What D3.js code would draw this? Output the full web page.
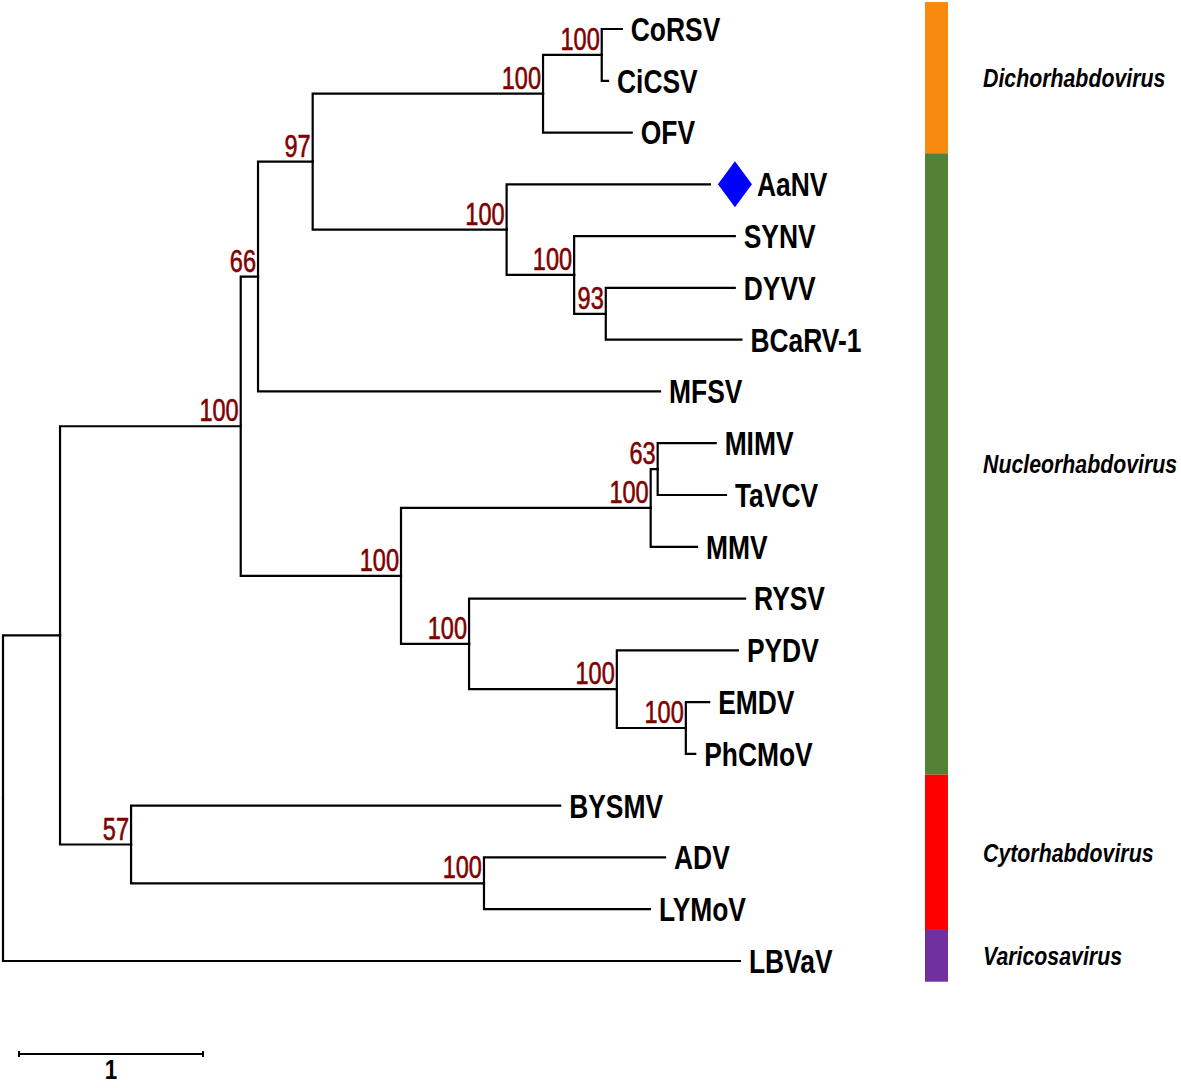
<!DOCTYPE html>
<html>
<head>
<meta charset="utf-8">
<script src="https://cdn.jsdelivr.net/npm/d3@7"></script>
<style>
  html, body { margin: 0; padding: 0; background: #fff; }
  svg { display: block; }
  .lbl { font-family: "Liberation Sans", Arial, sans-serif; }
</style>
</head>
<body>
<svg id="chart" width="1181" height="1088"></svg>
<script>
// ---- Tree data (parent table, branch lengths in substitutions/site, bootstrap support) ----
const nodeIds = ["root","n1","n2","n3","n4","n5","n6","CoRSV","CiCSV","OFV","n7","AaNV","n8","SYNV","n9","DYVV","BCaRV-1","MFSV",
  "n10","n11","n12","MIMV","TaVCV","MMV","n13","RYSV","n14","PYDV","n15","EMDV","PhCMoV","n16","BYSMV","n17","ADV","LYMoV","LBVaV"];
const parentIds = [null,"root","n1","n2","n3","n4","n5","n6","n6","n5","n4","n7","n7","n8","n8","n9","n9","n3",
  "n2","n10","n11","n12","n12","n11","n10","n13","n13","n14","n14","n15","n15","n1","n16","n16","n17","n17","root"];
const branchLengths = [0,0.310,0.982,0.094,0.297,1.252,0.319,0.109,0.034,0.482,1.054,1.105,0.367,0.873,0.172,0.701,0.737,2.185,
  0.871,1.357,0.038,0.315,0.371,0.252,0.370,1.500,0.803,0.658,0.375,0.127,0.051,0.386,2.332,1.918,0.984,0.902,4.005];
const bootstrapValues = [null,null,100,66,97,100,100,null,null,null,100,null,100,null,93,null,null,null,
  100,100,63,null,null,null,100,null,100,null,100,null,null,57,null,100,null,null,null];

// highlighted taxon
const highlightedTaxa = ["AaNV"];

// genus groups (in leaf order)
const genusNames = ["Dichorhabdovirus","Nucleorhabdovirus","Cytorhabdovirus","Varicosavirus"];
const genusLeafCounts = [3, 12, 3, 1];
const genusColors = ["#f7890f","#538135","#fe0000","#7030a0"];

const scaleBarValue = 1;
const scaleBarLabel = "1";

// ---- Build hierarchy ----
const table = nodeIds.map((id, i) => ({ id, parent: parentIds[i], len: branchLengths[i], boot: bootstrapValues[i] }));
const root = d3.stratify().id(d => d.id).parentId(d => d.parent)(table);

root.each(d => { d.dist = d.parent ? d.parent.dist + d.data.len : 0; });
const leaves = root.leaves();

const x = d3.scaleLinear().domain([0, 1]).range([3, 187]);
const y = d3.scaleLinear().domain([0, leaves.length - 1]).range([29, 961]);

leaves.forEach((l, i) => { l.yv = y(i); });
root.eachAfter(d => {
  if (d.children) d.yv = (d.children[0].yv + d.children[d.children.length - 1].yv) / 2;
});

const svg = d3.select("#chart");
const g = svg.append("g");
const NARROW = 0.8;

// branches (elbows)
g.append("g")
  .attr("fill", "none")
  .attr("stroke", "#000")
  .attr("stroke-width", 2.2)
  .attr("stroke-linecap", "square")
  .selectAll("path")
  .data(root.links())
  .join("path")
  .attr("d", l => `M${x(l.source.dist)},${l.source.yv}V${l.target.yv}H${x(l.target.dist)}`);

// bootstrap labels
g.append("g")
  .selectAll("text")
  .data(root.descendants().filter(d => d.data.boot != null))
  .join("text")
  .attr("class", "lbl")
  .attr("transform", d => `translate(${x(d.dist) - 2},${d.yv - 5}) scale(0.76,1)`)
  .attr("text-anchor", "end")
  .attr("fill", "#7f0000")
  .attr("font-size", 31)
  .attr("font-weight", 500)
  .attr("stroke", "#7f0000")
  .attr("stroke-width", 0.6)
  .text(d => d.data.boot);

// highlight diamond
const diamondPath = d3.line()([[0, -23], [17, 0], [0, 23], [-17, 0]]) + "Z";
g.append("g")
  .selectAll("path")
  .data(leaves.filter(l => highlightedTaxa.includes(l.id)))
  .join("path")
  .attr("d", diamondPath)
  .attr("fill", "#0000ff")
  .attr("transform", l => `translate(${x(l.dist) + 25},${l.yv})`);

// leaf labels
g.append("g")
  .selectAll("text")
  .data(leaves)
  .join("text")
  .attr("class", "lbl")
  .attr("transform", l => `translate(${x(l.dist) + (highlightedTaxa.includes(l.id) ? 47 : 9)},${l.yv}) scale(${NARROW},1)`)
  .attr("dy", "0.36em")
  .attr("font-size", 33)
  .attr("font-weight", "bold")
  .attr("fill", "#000")
  .text(l => l.id);

// genus colour bar
const step = y(1) - y(0);
let start = 0;
const groups = genusNames.map((name, i) => {
  const first = start, last = start + genusLeafCounts[i] - 1;
  start = last + 1;
  return { name, color: genusColors[i], first, last };
});
groups.forEach((gr, i) => {
  gr.top = i === 0 ? y(gr.first) - 0.52 * step : y(groups[i - 1].last) + 0.4 * step;
  gr.bottom = y(gr.last) + 0.4 * step;
});
const bar = g.append("g");
bar.selectAll("rect")
  .data(groups)
  .join("rect")
  .attr("x", 925)
  .attr("width", 23)
  .attr("y", d => d.top)
  .attr("height", d => d.bottom - d.top)
  .attr("fill", d => d.color);
bar.selectAll("text")
  .data(groups)
  .join("text")
  .attr("class", "lbl")
  .attr("transform", d => `translate(983,${(d.top + d.bottom) / 2}) scale(0.82,1)`)
  .attr("dy", "0.36em")
  .attr("font-size", 26)
  .attr("font-weight", "bold")
  .attr("font-style", "italic")
  .text(d => d.name);

// scale bar
const sb = g.append("g").attr("stroke", "#000").attr("stroke-width", 2);
const sx0 = 19, sx1 = 19 + (x(scaleBarValue) - x(0)), sy = 1054;
sb.append("line").attr("x1", sx0).attr("x2", sx1).attr("y1", sy).attr("y2", sy);
sb.append("line").attr("x1", sx0).attr("x2", sx0).attr("y1", sy - 3).attr("y2", sy + 3);
sb.append("line").attr("x1", sx1).attr("x2", sx1).attr("y1", sy - 3).attr("y2", sy + 3);
g.append("text")
  .attr("class", "lbl")
  .attr("transform", `translate(${(sx0 + sx1) / 2},1079) scale(${NARROW},1)`)
  .attr("text-anchor", "middle")
  .attr("font-size", 28)
  .attr("font-weight", "bold")
  .text(scaleBarLabel);
</script>
</body>
</html>
